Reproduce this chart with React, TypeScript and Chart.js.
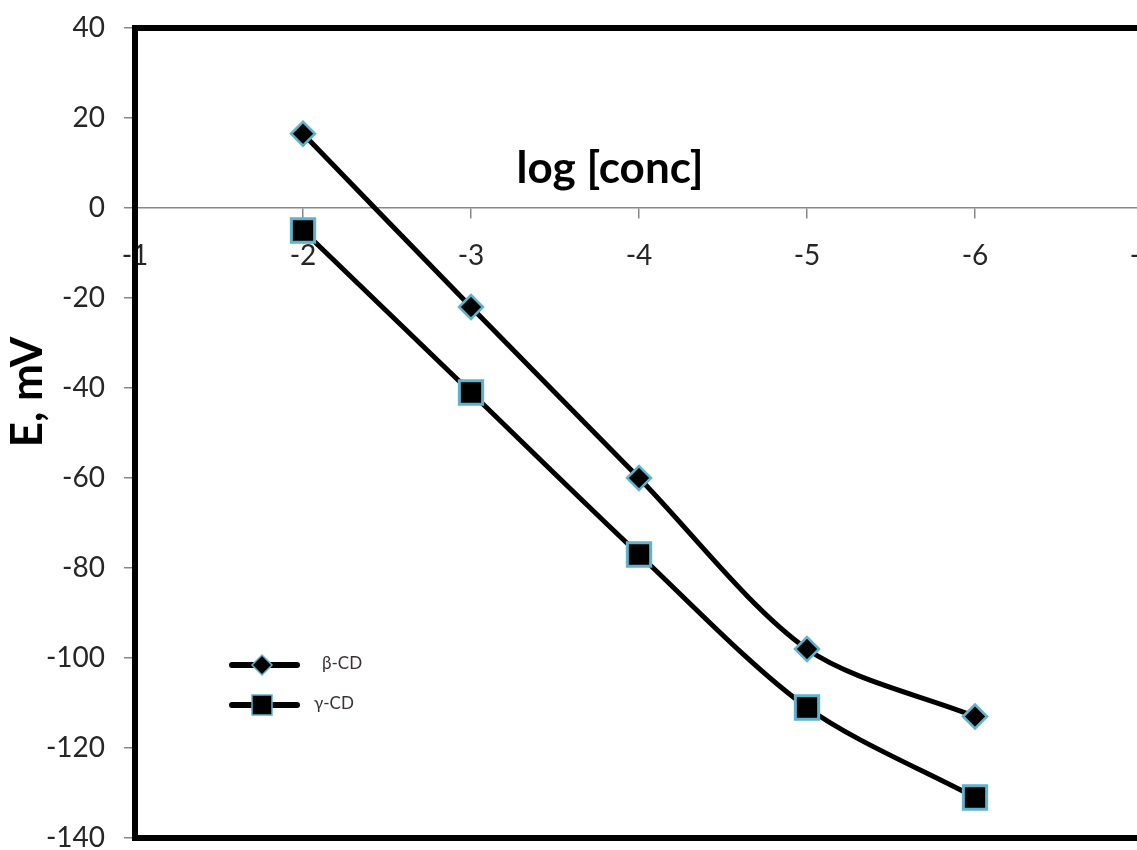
import React, { useEffect, useRef } from 'react';
import { Chart, registerables } from 'chart.js';

Chart.register(...registerables);

// ---- data ----
const logConc = [-2, -3, -4, -5, -6];
const betaCD = [16.5, -22, -60, -98, -113];
const gammaCD = [-5, -41, -77, -111, -131];
const xTickValues = [-1, -2, -3, -4, -5, -6, -7];
const yTickValues = [-140, -120, -100, -80, -60, -40, -20, 0, 20, 40];
const seriesNames = ['β-CD', 'γ-CD'];
const xTitle = 'log [conc]';
const yTitle = 'E, mV';

const FONT = 'Lato, "Liberation Sans", sans-serif';
const MARKER_EDGE = '#5fb3cc';

const framePlugin = {
  id: 'frameAndLabels',
  afterDraw(chart: any) {
    const { ctx, chartArea } = chart;
    ctx.save();
    // thick frame
    ctx.strokeStyle = '#000';
    ctx.lineWidth = 6;
    ctx.strokeRect(chartArea.left, chartArea.top, chartArea.right - chartArea.left, chartArea.bottom - chartArea.top);

    // x title inside plot
    ctx.fillStyle = '#000';
    ctx.font = `bold 44px ${FONT}`;
    ctx.textAlign = 'center';
    ctx.textBaseline = 'alphabetic';
    ctx.fillText(xTitle, 610, 183);

    // y title rotated
    ctx.save();
    ctx.translate(42, 392);
    ctx.rotate(-Math.PI / 2);
    ctx.font = `bold 44px ${FONT}`;
    ctx.fillText(yTitle, 0, 0);
    ctx.restore();

    // legend
    const items = [
      { y: 665, style: 'diamond', textX: 322 },
      { y: 705, style: 'square', textX: 314 },
    ];
    items.forEach((it, i) => {
      ctx.strokeStyle = '#000';
      ctx.lineWidth = 6;
      ctx.lineCap = 'round';
      ctx.beginPath();
      ctx.moveTo(232, it.y);
      ctx.lineTo(297, it.y);
      ctx.stroke();
      ctx.fillStyle = '#000';
      ctx.strokeStyle = MARKER_EDGE;
      ctx.lineWidth = 1.5;
      ctx.beginPath();
      if (it.style === 'diamond') {
        const r = 10;
        ctx.moveTo(262, it.y - r);
        ctx.lineTo(262 + r, it.y);
        ctx.lineTo(262, it.y + r);
        ctx.lineTo(262 - r, it.y);
        ctx.closePath();
      } else {
        const s = 10;
        ctx.rect(262 - s, it.y - s, 2 * s, 2 * s);
      }
      ctx.fill();
      ctx.stroke();
      ctx.fillStyle = '#3a3030';
      ctx.font = `17px ${FONT}`;
      ctx.textAlign = 'left';
      ctx.textBaseline = 'middle';
      ctx.fillText(seriesNames[i], it.textX, it.y - 1);
    });
    ctx.restore();
  },
};

export default function App() {
  const ref = useRef<HTMLCanvasElement>(null);
  useEffect(() => {
    const canvas = ref.current!;
    const chart = new Chart(canvas, {
      type: 'line',
      data: {
        datasets: [
          {
            label: seriesNames[0],
            data: logConc.map((x, i) => ({ x, y: betaCD[i] })),
            borderColor: '#000',
            borderWidth: 5,
            tension: 0.3,
            pointStyle: 'rectRot',
            pointRadius: 12,
            pointBackgroundColor: '#000',
            pointBorderColor: MARKER_EDGE,
            pointBorderWidth: 2.5,
          },
          {
            label: seriesNames[1],
            data: logConc.map((x, i) => ({ x, y: gammaCD[i] })),
            borderColor: '#000',
            borderWidth: 5,
            tension: 0.3,
            pointStyle: 'rect',
            pointRadius: 16.5,
            pointBackgroundColor: '#000',
            pointBorderColor: MARKER_EDGE,
            pointBorderWidth: 3,
          },
        ],
      },
      options: {
        responsive: false,
        animation: false,
        devicePixelRatio: 1,
        layout: { padding: { left: 0, top: 28, right: 37, bottom: 32 } },
        plugins: { legend: { display: false }, tooltip: { enabled: false } },
        scales: {
          x: {
            type: 'linear',
            reverse: true,
            min: -7,
            max: -1,
            position: { y: 0 } as any,
            afterBuildTicks: (scale: any) => {
              scale.ticks = xTickValues.map((v) => ({ value: v }));
            },
            afterFit: (scale: any) => {
              scale.paddingLeft = 0;
              scale.paddingRight = 0;
            },
            ticks: {
              font: { family: FONT, size: 28 },
              color: '#262626',
              padding: 21,
              maxRotation: 0,
              callback: (v: any) => String(v),
            },
            grid: { drawOnChartArea: false, drawTicks: true, tickLength: 10, color: '#888', lineWidth: 1.5 },
            border: { display: true, color: '#888', width: 1.5 },
          },
          y: {
            type: 'linear',
            min: -140,
            max: 40,
            afterBuildTicks: (scale: any) => {
              scale.ticks = yTickValues.map((v) => ({ value: v }));
            },
            afterFit: (scale: any) => {
              scale.width = 135;
              scale.paddingTop = 0;
              scale.paddingBottom = 0;
            },
            ticks: {
              font: { family: FONT, size: 28 },
              color: '#262626',
              padding: 19,
              callback: (v: any) => String(v),
            },
            grid: { drawOnChartArea: false, drawTicks: true, tickLength: 11, color: '#888', lineWidth: 1.5 },
            border: { display: false },
          },
        },
      },
      plugins: [framePlugin],
    });
    return () => chart.destroy();
  }, []);

  return (
    <div style={{ position: 'fixed', left: 0, top: 0, width: 1137, height: 850, overflow: 'hidden', background: '#fff' }}>
      <canvas ref={ref} width={1180} height={870} style={{ display: 'block', width: 1180, height: 870 }} />
    </div>
  );
}
